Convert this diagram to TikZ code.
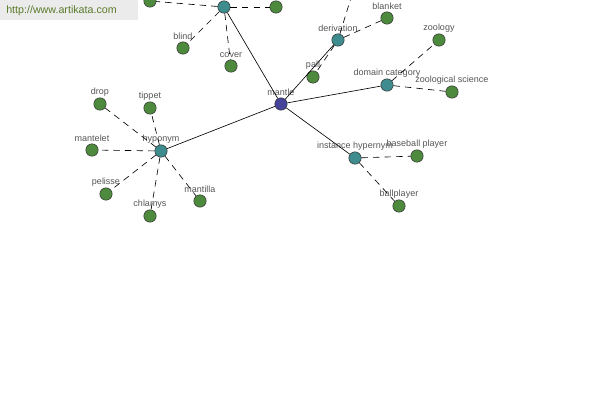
\documentclass[tikz,border=0pt]{standalone}
\usepackage{fontspec}
\setmainfont{Liberation Sans}
\usetikzlibrary{positioning}

\definecolor{leafgreen}{HTML}{4E8A3E}
\definecolor{hubteal}{HTML}{3E8C8E}
\definecolor{rootblue}{HTML}{45449A}
\definecolor{labelgray}{HTML}{555555}
\definecolor{sitegreen}{HTML}{5A7A2A}

\begin{document}
\begin{tikzpicture}[
    x=0.025cm, y=-0.025cm,
    dot/.style={circle, draw=black!80, line width=0.4pt, fill=#1, minimum size=0.31cm, inner sep=0pt},
    leaf/.style={dot=leafgreen},
    hub/.style={dot=hubteal},
    root/.style={dot=rootblue},
    lbl/.style={label={[font=\fontsize{6.4}{7}\selectfont, text=labelgray, inner sep=0.5pt, label distance=0.4pt]above:#1}},
    link/.style={draw=black, line width=0.45pt},
    sub/.style={draw=black, line width=0.45pt, dash pattern=on 4.6pt off 3.6pt}
]
\useasboundingbox (0,0) rectangle (600,400);
\clip (0,0) rectangle (600,400);

% centre
\node (mantle) [root, lbl=mantle] at (281,104) {};

% relation hubs
\node (top) [hub] at (224,7) {};
\node (deriv) [hub, lbl=derivation] at (338,40) {};
\node (domcat) [hub, lbl=domain category] at (387,85) {};
\node (insthyp) [hub, lbl=instance hypernym] at (355,158) {};
\node (hypo) [hub, lbl=hyponym] at (161,151) {};

% leaves
\node (topl) [leaf] at (150,1) {};
\node (topr) [leaf] at (276,7) {};
\node (blind) [leaf, lbl=blind] at (183,48) {};
\node (cover) [leaf, lbl=cover] at (231,66) {};
\coordinate (derivup) at (354,-12);
\node (blanket) [leaf, lbl=blanket] at (387,18) {};
\node (pall) [leaf, lbl=pall] at (313,77) {};
\node (zoology) [leaf, lbl=zoology] at (439,40) {};
\node (zoosci) [leaf, lbl=zoological science] at (452,92) {};
\node (baseball) [leaf, lbl=baseball player] at (417,156) {};
\node (ballpl) [leaf, lbl=ballplayer] at (399,206) {};
\node (drop) [leaf, lbl=drop] at (100,104) {};
\node (tippet) [leaf, lbl=tippet] at (150,108) {};
\node (mantelet) [leaf, lbl=mantelet] at (92,150) {};
\node (pelisse) [leaf, lbl=pelisse] at (106,194) {};
\node (chlamys) [leaf, lbl=chlamys] at (150,216) {};
\node (mantilla) [leaf, lbl=mantilla] at (200,201) {};

% solid links from the centre
\foreach \h in {top, deriv, domcat, insthyp, hypo}
    \draw[link] (mantle) -- (\h);

% dashed links to leaves
\foreach \h/\l in {top/topl, top/topr, top/blind, top/cover,
                   deriv/blanket, deriv/pall,
                   domcat/zoology, domcat/zoosci,
                   insthyp/baseball, insthyp/ballpl,
                   hypo/drop, hypo/tippet, hypo/mantelet, hypo/pelisse, hypo/chlamys, hypo/mantilla}
    \draw[sub] (\h) -- (\l);
\draw[sub] (deriv) -- (derivup);

% site banner
\fill[black!8] (0,0) rectangle (138,20);
\node (site) [font=\fontsize{7.6}{9}\selectfont, text=sitegreen, anchor=west, inner sep=0pt] at (6,11) {http://www.artikata.com};
\end{tikzpicture}
\end{document}
